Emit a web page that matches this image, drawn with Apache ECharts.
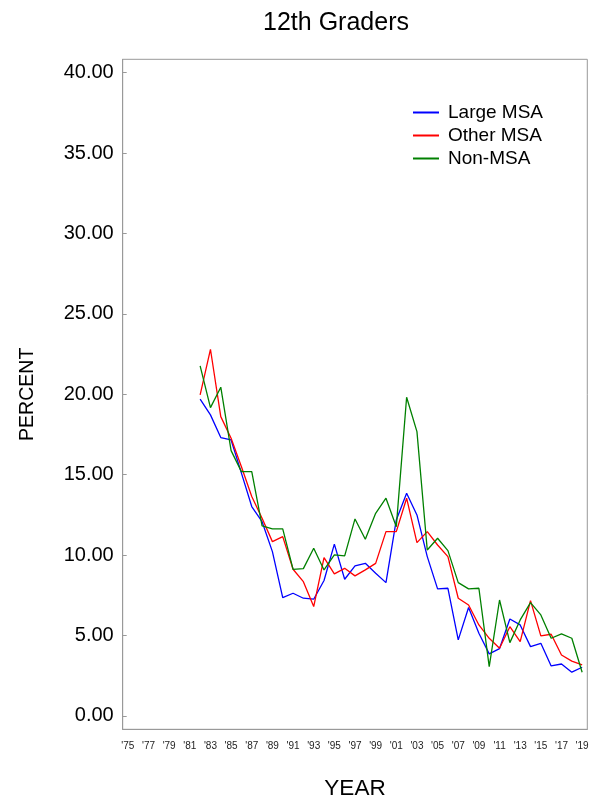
<!DOCTYPE html>
<html>
<head>
<meta charset="utf-8">
<script src="https://cdn.jsdelivr.net/npm/echarts@6/dist/echarts.min.js"></script>
<style>html,body{margin:0;padding:0;background:#fff}#c{width:592px;height:802px}</style>
</head>
<body>
<div id="c"></div>
<script>
// Axis categories (years shown on the x axis)
const axisYears = [];
for (let y = 1975; y <= 2019; y++) axisYears.push(String(y));
// Years with data
const dataYears = ['1982','1983','1984','1985','1986','1987','1988','1989','1990','1991','1992','1993','1994','1995','1996','1997','1998','1999',
  '2000','2001','2002','2003','2004','2005','2006','2007','2008','2009','2010','2011','2012','2013','2014','2015','2016','2017','2018','2019'];
const largeMSA = [19.70,18.72,17.31,17.16,15.1,13.02,12.08,10.22,7.36,7.63,7.32,7.26,8.42,10.68,8.5,9.33,9.49,8.87,
  8.29,12.19,13.85,12.5,9.91,7.9,7.94,4.73,6.74,5.14,3.86,4.19,6.03,5.66,4.31,4.52,3.11,3.23,2.72,3.03];
const otherMSA = [19.96,22.8,18.61,17.27,15.5,13.64,12.29,10.84,11.15,9.12,8.35,6.80,9.85,8.83,9.18,8.71,9.08,9.49,
  11.46,11.46,13.54,10.78,11.46,10.63,9.91,7.32,6.9,5.66,4.83,4.21,5.55,4.62,7.17,4.98,5.08,3.79,3.41,3.17];
const nonMSA = [21.77,19.17,20.44,16.5,15.19,15.19,11.82,11.63,11.63,9.12,9.16,10.43,9.08,10.01,9.95,12.25,10.99,12.6,
  13.54,11.77,19.82,17.68,10.32,11.05,10.28,8.29,7.9,7.94,3.07,7.21,4.56,5.97,7.05,6.28,4.83,5.10,4.83,2.72];
const yTicks = [0,5,10,15,20,25,30,35,40];
const seriesNames = ['Large MSA','Other MSA','Non-MSA'];
const seriesColors = ['#0000ff','#ff0000','#008000'];

const pairs = vals => dataYears.map((y, i) => [y, vals[i]]);
const chart = echarts.init(document.getElementById('c'), null, {renderer: 'canvas'});
const font = 'Arial, "Liberation Sans", sans-serif';
chart.setOption({
  animation: false,
  backgroundColor: '#fff',
  textStyle: {fontFamily: font},
  title: {
    text: '12th Graders', left: 331, top: 6, textAlign: 'center',
    textStyle: {fontSize: 25, fontWeight: 'normal', color: '#000', fontFamily: font}
  },
  legend: {
    orient: 'vertical', left: 408, top: 96, itemGap: 0,
    itemWidth: 26, itemHeight: 2, icon: 'rect',
    textStyle: {fontSize: 19, color: '#000', lineHeight: 23, fontFamily: font, padding: [0,0,0,4]},
    data: seriesNames
  },
  grid: {
    left: 122.7, right: 4.7, top: 59.3, bottom: 72.7,
    show: true, borderColor: '#999', borderWidth: 1, containLabel: false,
    outerBoundsMode: 'none'
  },
  xAxis: {
    type: 'category', data: axisYears, boundaryGap: true,
    name: 'YEAR', nameLocation: 'middle', nameGap: 48,
    nameTextStyle: {fontSize: 22.5, color: '#000', fontFamily: font},
    axisLine: {onZero: false, lineStyle: {color: '#999'}},
    axisTick: {inside: true, length: 5, alignWithLabel: true, interval: 0, lineStyle: {color: '#999'}},
    axisLabel: {interval: 1, fontSize: 10, color: '#222', margin: 12, fontFamily: font,
      formatter: v => "'" + v.slice(2)},
    splitLine: {show: false}
  },
  yAxis: {
    type: 'value', min: -0.83, max: 40.83,
    name: 'PERCENT', nameLocation: 'middle', nameGap: 85, nameRotate: 90,
    nameTextStyle: {fontSize: 19.5, color: '#000', fontFamily: font},
    axisLine: {show: true, lineStyle: {color: '#999'}},
    axisTick: {show: true, inside: true, length: 4, customValues: yTicks, lineStyle: {color: '#999'}},
    axisLabel: {fontSize: 20, color: '#000', margin: 9, fontFamily: font, customValues: yTicks,
      formatter: v => Number(v).toFixed(2)},
    splitLine: {show: false}
  },
  series: [largeMSA, otherMSA, nonMSA].map((vals, i) => ({
    name: seriesNames[i], type: 'line', data: pairs(vals),
    symbol: 'none', color: seriesColors[i],
    lineStyle: {width: 1.3, color: seriesColors[i]}
  }))
});
</script>
</body>
</html>
